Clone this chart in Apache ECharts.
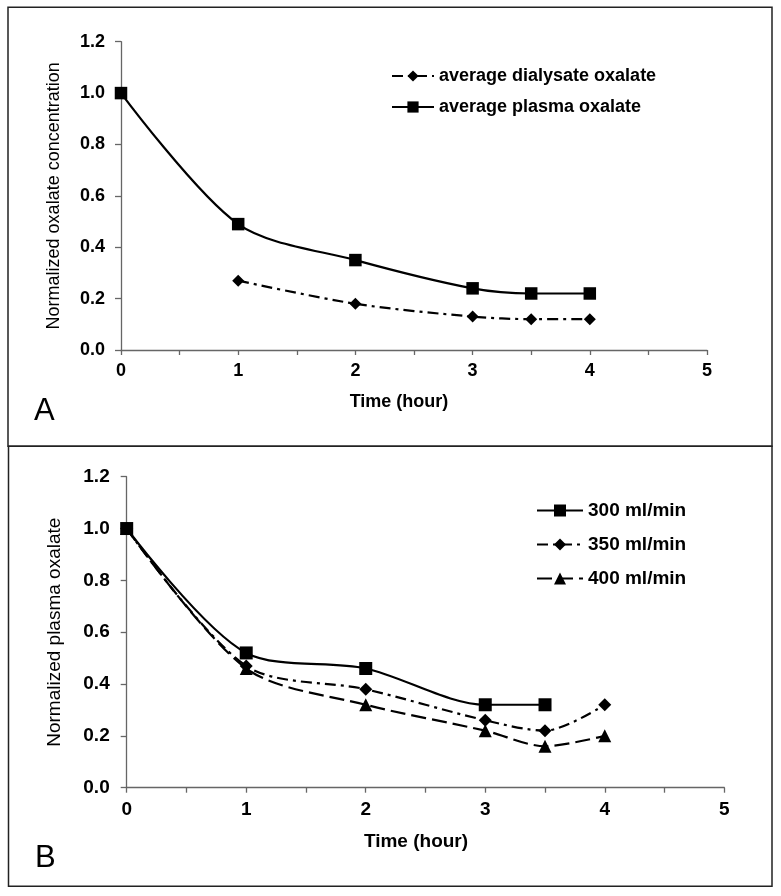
<!DOCTYPE html>
<html>
<head>
<meta charset="utf-8">
<script src="https://cdn.jsdelivr.net/npm/echarts@6/dist/echarts.min.js"></script>
<style>
html,body{margin:0;padding:0;background:#fff;}
#chart{width:781px;height:896px;}
</style>
</head>
<body>
<div id="chart"></div>
<script>
// ---- Data ----
const hoursA = [0, 1, 2, 3, 3.5, 4];
const plasmaA = [1.0, 0.49, 0.35, 0.24, 0.22, 0.22];
const hoursDialysate = [1, 2, 3, 3.5, 4];
const dialysateA = [0.27, 0.18, 0.13, 0.12, 0.12];

const hours300 = [0, 1, 2, 3, 3.5];
const flow300 = [1.0, 0.52, 0.46, 0.32, 0.32];
const hoursB = [0, 1, 2, 3, 3.5, 4];
const flow350 = [1.0, 0.47, 0.38, 0.26, 0.22, 0.32];
const flow400 = [1.0, 0.46, 0.32, 0.22, 0.16, 0.20];

const seriesNamesA = ['average dialysate oxalate', 'average plasma oxalate'];
const seriesNamesB = ['300 ml/min', '350 ml/min', '400 ml/min'];
const xAxisRange = [0, 5];
const yAxisRange = [0, 1.2];
const xTitle = 'Time (hour)';
const yTitleA = 'Normalized oxalate concentration';
const yTitleB = 'Normalized plasma oxalate';
const panelLabels = ['A', 'B'];

const pairs = (xs, ys) => xs.map((x, i) => [x, ys[i]]);

const FONT = "'Liberation Sans', Arial, sans-serif";
const AXIS_COLOR = '#666';

function xAxisCfg(gridIndex, fs, nameGap, padRight, labelMargin) {
  return {
    type: 'value', gridIndex, min: xAxisRange[0], max: xAxisRange[1], interval: 1,
    name: xTitle, nameLocation: 'middle', nameGap,
    nameTextStyle: { color: '#000', fontFamily: FONT, fontWeight: 'bold', fontSize: fs, padding: [0, padRight, 0, 0] },
    axisLine: { show: true, onZero: false, lineStyle: { color: AXIS_COLOR, width: 1.3 } },
    axisTick: { show: true, inside: false, length: 5, lineStyle: { color: AXIS_COLOR, width: 1.3 } },
    minorTick: { show: true, splitNumber: 2, length: 5, lineStyle: { color: AXIS_COLOR, width: 1.3 } },
    axisLabel: { color: '#000', fontFamily: FONT, fontWeight: 'bold', fontSize: fs, margin: labelMargin },
    splitLine: { show: false }, minorSplitLine: { show: false }
  };
}
function yAxisCfg(gridIndex, fs, title, nameGap, labelMargin) {
  return {
    type: 'value', gridIndex, min: yAxisRange[0], max: yAxisRange[1], interval: 0.2,
    name: title, nameLocation: 'middle', nameGap,
    nameTextStyle: { color: '#000', fontFamily: FONT, fontWeight: 'normal', fontSize: fs },
    axisLine: { show: true, onZero: false, lineStyle: { color: AXIS_COLOR, width: 1.3 } },
    axisTick: { show: true, inside: false, length: 6, lineStyle: { color: AXIS_COLOR, width: 1.3 } },
    axisLabel: { color: '#000', fontFamily: FONT, fontWeight: 'bold', fontSize: fs, margin: labelMargin,
      formatter: v => v.toFixed(1) },
    splitLine: { show: false }
  };
}
function lineSeries(name, data, xi, symbol, size, dash) {
  return {
    name, type: 'line', xAxisIndex: xi, yAxisIndex: xi, data,
    smooth: 0.3, symbol, symbolSize: size, showSymbol: true,
    lineStyle: { color: '#000', width: 2.2, type: dash || 'solid' },
    itemStyle: { color: '#000' },
    emphasis: { disabled: true }, animation: false
  };
}

const dashDot = [11, 5, 3, 5];
const longDash = [15, 6];

const chart = echarts.init(document.getElementById('chart'), null, { renderer: 'canvas' });
chart.setOption({
  backgroundColor: '#fff',
  animation: false,
  grid: [
    { left: 121, top: 41.7, width: 586, height: 308.3, containLabel: false },
    { left: 126.7, top: 476.7, width: 597.6, height: 311, containLabel: false }
  ],
  xAxis: [ xAxisCfg(0, 18, 43, 30, 12), xAxisCfg(1, 19, 45, 19, 13) ],
  yAxis: [ yAxisCfg(0, 18, yTitleA, 58, 16), yAxisCfg(1, 19, yTitleB, 62, 17) ],
  legend: [
    { data: [seriesNamesA[0], seriesNamesA[1]], orient: 'vertical', left: 386, top: 62,
      itemWidth: 42, itemHeight: 14, itemGap: 13, selectedMode: false,
      textStyle: { color: '#000', fontFamily: FONT, fontWeight: 'bold', fontSize: 18 } },
    { data: seriesNamesB, orient: 'vertical', left: 531, top: 496,
      itemWidth: 46, itemHeight: 15, itemGap: 15, selectedMode: false,
      textStyle: { color: '#000', fontFamily: FONT, fontWeight: 'bold', fontSize: 19 } }
  ],
  series: [
    lineSeries(seriesNamesA[0], pairs(hoursDialysate, dialysateA), 0, 'diamond', 12, dashDot),
    lineSeries(seriesNamesA[1], pairs(hoursA, plasmaA), 0, 'rect', 12.5),
    lineSeries(seriesNamesB[0], pairs(hours300, flow300), 1, 'rect', 13),
    lineSeries(seriesNamesB[1], pairs(hoursB, flow350), 1, 'diamond', 13, dashDot),
    lineSeries(seriesNamesB[2], pairs(hoursB, flow400), 1, 'triangle', 13, longDash)
  ],
  graphic: [
    { type: 'rect', shape: { x: 8, y: 7.3, width: 764, height: 439 }, style: { fill: 'none', stroke: '#222', lineWidth: 1.5 }, silent: true },
    { type: 'rect', shape: { x: 8.5, y: 446.3, width: 763.5, height: 440 }, style: { fill: 'none', stroke: '#222', lineWidth: 1.5 }, silent: true },
    { type: 'text', left: 34, top: 396, style: { text: panelLabels[0], fontFamily: FONT, fontSize: 31, fill: '#000' }, silent: true },
    { type: 'text', left: 35, top: 843, style: { text: panelLabels[1], fontFamily: FONT, fontSize: 31, fill: '#000' }, silent: true }
  ]
});
</script>
</body>
</html>
